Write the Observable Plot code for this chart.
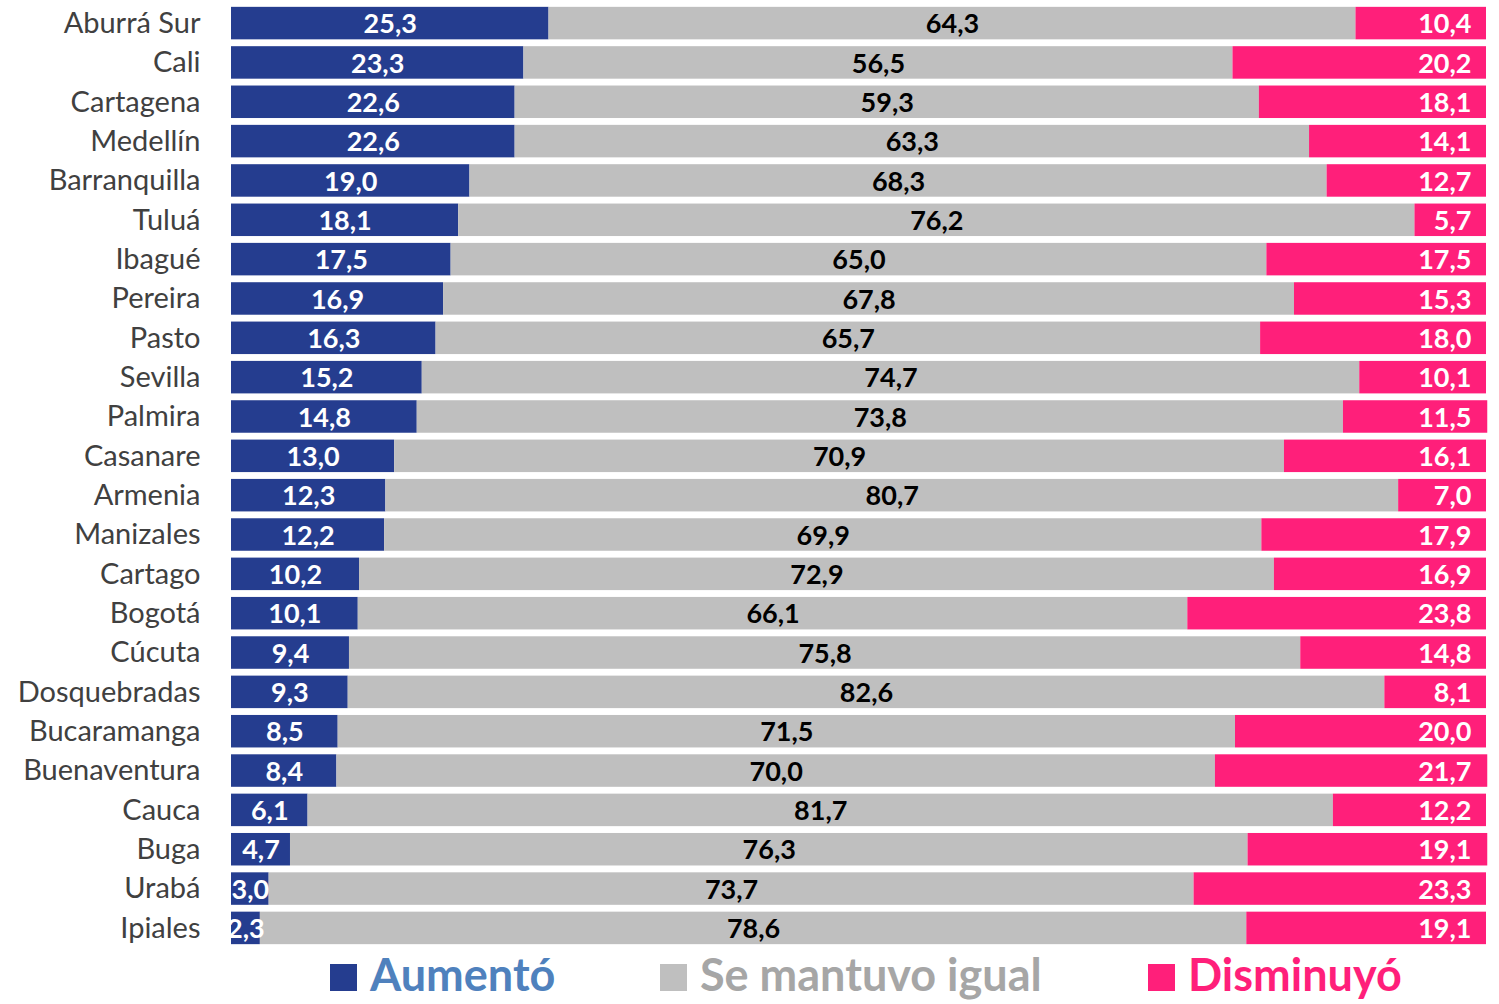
<!DOCTYPE html>
<html>
<head>
<meta charset="utf-8">
<script src="https://cdn.jsdelivr.net/npm/d3@7"></script>
<script src="https://cdn.jsdelivr.net/npm/@observablehq/plot@0.6"></script>
<style>
  body { margin: 0; background: #fff; font-family: Lato, "Open Sans", sans-serif; }
  #wrap { position: relative; width: 1499px; height: 1004px; overflow: hidden; }
  .leg { position: absolute; top: 948px; display: flex; align-items: center; font-weight: 700; font-size: 45px; line-height: 52px; white-space: nowrap; }
  .sw { display: inline-block; width: 27px; height: 27px; margin-right: 13px; margin-top: 6px; }
</style>
</head>
<body>
<div id="wrap">
  <div id="chart"></div>
  <div id="legend"></div>
</div>
<script>
const cities = ["Aburrá Sur","Cali","Cartagena","Medellín","Barranquilla","Tuluá","Ibagué","Pereira","Pasto","Sevilla","Palmira","Casanare","Armenia","Manizales","Cartago","Bogotá","Cúcuta","Dosquebradas","Bucaramanga","Buenaventura","Cauca","Buga","Urabá","Ipiales"];
const aumento   = [25.3,23.3,22.6,22.6,19.0,18.1,17.5,16.9,16.3,15.2,14.8,13.0,12.3,12.2,10.2,10.1,9.4,9.3,8.5,8.4,6.1,4.7,3.0,2.3];
const igual     = [64.3,56.5,59.3,63.3,68.3,76.2,65.0,67.8,65.7,74.7,73.8,70.9,80.7,69.9,72.9,66.1,75.8,82.6,71.5,70.0,81.7,76.3,73.7,78.6];
const disminuyo = [10.4,20.2,18.1,14.1,12.7,5.7,17.5,15.3,18.0,10.1,11.5,16.1,7.0,17.9,16.9,23.8,14.8,8.1,20.0,21.7,12.2,19.1,23.3,19.1];
const series = ["Aumentó","Se mantuvo igual","Disminuyó"];
const barColors = ["#253d8f","#bfbfbf","#ff1f7a"];
const legendTextColors = ["#4f81bd","#a6a6a6","#ff1f7a"];

const seriesValues = [aumento, igual, disminuyo];
const data = [];
cities.forEach((c, i) => {
  series.forEach((s, k) => data.push({city: c, cat: s, value: seriesValues[k][i]}));
});
const fmt = v => v.toFixed(1).replace(".", ",");

const chart = Plot.plot({
  width: 1499,
  height: 952,
  marginLeft: 231,
  marginRight: 13,
  marginTop: 0,
  marginBottom: 1,
  style: {fontFamily: "Lato, 'Open Sans', sans-serif", background: "#fff"},
  x: {domain: [0, 100], axis: null},
  y: {domain: cities, padding: 0.174, round: false, label: null},
  color: {domain: series, range: barColors},
  marks: [
    Plot.barX(data, {x: "value", y: "city", fill: "cat", order: series}),
    Plot.text(data.filter(d => d.cat !== "Disminuyó"), Plot.stackX({
      x: "value", y: "city", z: "cat", order: series,
      text: d => fmt(d.value),
      fill: d => d.cat === "Aumentó" ? "#ffffff" : "#000000",
      fontSize: 27, fontWeight: 700, dy: 1
    })),
    Plot.text(data.filter(d => d.cat === "Disminuyó"), {
      x: () => 100, y: "city", text: d => fmt(d.value),
      fill: "#ffffff", fontSize: 27, fontWeight: 700, textAnchor: "end", dx: -15, dy: 1
    }),
    Plot.axisY({tickSize: 0, tickPadding: 31, fontSize: 29, color: "#404040", label: null})
  ]
});
document.getElementById("chart").appendChild(chart);

const lefts = [330, 660, 1148];
const legend = document.getElementById("legend");
series.forEach((s, k) => {
  const item = document.createElement("div");
  item.className = "leg";
  item.style.left = lefts[k] + "px";
  item.style.color = legendTextColors[k];
  const sw = document.createElement("span");
  sw.className = "sw";
  sw.style.background = barColors[k];
  item.appendChild(sw);
  item.appendChild(document.createTextNode(s));
  legend.appendChild(item);
});
</script>
</body>
</html>
